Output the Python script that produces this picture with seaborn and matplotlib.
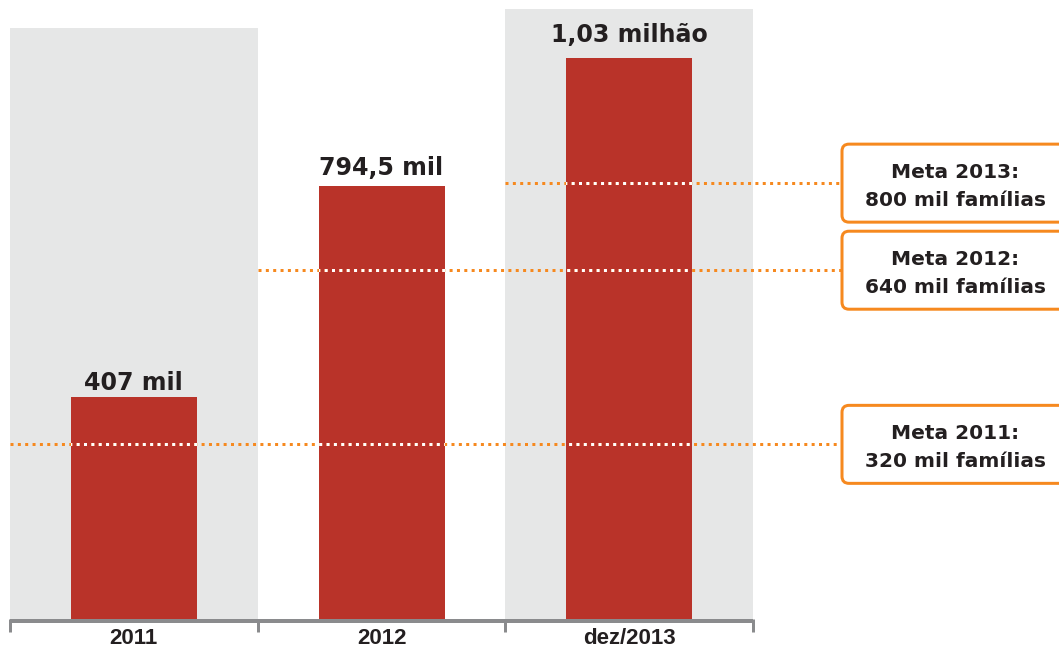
import matplotlib
matplotlib.use("Agg")
import matplotlib.pyplot as plt
from matplotlib.patches import FancyBboxPatch, Rectangle
from matplotlib.transforms import IdentityTransform
import pandas as pd
import seaborn as sns

# Famílias atendidas (milhares)
categories = ["2011", "2012", "dez/2013"]
families_thousand = [407, 794.5, 1030]
value_labels = ["407 mil", "794,5 mil", "1,03 milhão"]

# Metas anuais (milhares)
goal_titles = ["Meta 2011:", "Meta 2012:", "Meta 2013:"]
goal_thousand = [320, 640, 800]
goal_texts = ["320 mil famílias", "640 mil famílias", "800 mil famílias"]

# Layout (pixels)
W, H, DPI = 1059, 648, 100
PITCH = 247.67      # width of one category slot
PPU = 0.5442        # pixels per thousand families
BASE = 618.5        # bar baseline, measured from the top
LEFT = 10           # left edge of the first slot
BAR_W = 126 / PITCH
PT = 72 / DPI       # points per pixel

RED = "#B93329"
SHADE = "#E6E7E7"
ORANGE = "#F6891F"
AXIS = "#8A8B8D"
INK = "#231F20"


def xd(px):
    return -0.5 + (px - LEFT) / PITCH


def yd(px):
    return (BASE - px) / PPU


sns.set_theme(style="white")
fig = plt.figure(figsize=(W / DPI, H / DPI), dpi=DPI)
ax = fig.add_axes([0, 0, 1, 1])

df = pd.DataFrame({"periodo": categories, "familias": families_thousand})
sns.barplot(data=df, x="periodo", y="familias", color=RED, saturation=1,
            width=BAR_W, ax=ax, zorder=2, linewidth=0, edgecolor=RED)

ax.set_xlim(xd(0), xd(W))
ax.set_ylim(yd(H), yd(0))
ax.set_axis_off()

# shaded backdrop behind the first and last period
for i, top_px in [(0, 28), (2, 9)]:
    ax.add_patch(Rectangle((i - 0.5, 0), 1, yd(top_px), fc=SHADE, ec="none", zorder=0))

# bottom axis with separators between periods
ax.plot([-0.5, 2.5], [yd(620.5)] * 2, color=AXIS, lw=4 * PT, solid_capstyle="butt", zorder=3)
for edge in [-0.5, 0.5, 1.5, 2.5]:
    ax.plot([edge, edge], [yd(618.5), yd(632)], color=AXIS, lw=3 * PT,
            solid_capstyle="butt", zorder=3)

for i, cat in enumerate(categories):
    ax.annotate(cat, xy=(i, 0), xytext=(0, -25.5 * PT), textcoords="offset points",
                ha="center", va="baseline", fontsize=16, fontweight="bold",
                family="Liberation Sans", color=INK)

# value labels above the bars
gaps = [7, 11, 16]
for i, (v, lbl) in enumerate(zip(families_thousand, value_labels)):
    ax.annotate(lbl, xy=(i, v), xytext=(0, gaps[i] * PT), textcoords="offset points",
                ha="center", va="baseline", fontsize=17.1, fontweight="bold",
                family="DejaVu Sans", color=INK)

# goal lines: orange dots, white where they cross a bar
bars = list(ax.containers[0])
dot = (0, (1, 1.45))
box_left = 842
for i, g in enumerate(goal_thousand):
    xs = [i - 0.5, xd(box_left)]
    ax.plot(xs, [g, g], color=ORANGE, lw=3 * PT, ls=dot, zorder=3)
    for b in bars:
        ln, = ax.plot(xs, [g, g], color="white", lw=3 * PT, ls=dot, zorder=4)
        ln.set_clip_path(b)

# goal boxes
for title, txt, g in zip(goal_titles, goal_texts, goal_thousand):
    yc = ax.transData.transform((0, g))[1]
    box = FancyBboxPatch((box_left, yc - 39), 232, 78,
                         boxstyle="round,pad=0,rounding_size=7",
                         transform=IdentityTransform(), fc="white", ec=ORANGE,
                         lw=3 * PT, zorder=5)
    ax.add_artist(box)
    cx = xd(955.5)
    ax.annotate(title, xy=(cx, g), xytext=(0, 5.5 * PT), textcoords="offset points",
                ha="center", va="baseline", fontsize=14.5, fontweight="bold",
                family="DejaVu Sans", color=INK, zorder=6)
    ax.annotate(txt, xy=(cx, g), xytext=(0, -22.5 * PT), textcoords="offset points",
                ha="center", va="baseline", fontsize=14.5, fontweight="bold",
                family="DejaVu Sans", color=INK, zorder=6)

fig.savefig("out.png", dpi=DPI, facecolor="white")
